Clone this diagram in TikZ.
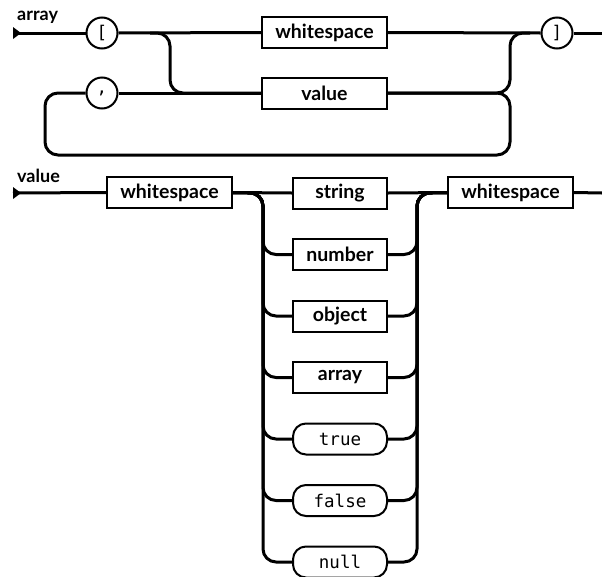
\documentclass[tikz,border=0pt]{standalone}
\usepackage{fontspec}
\setmainfont{Lato}
\newfontfamily\monofnt{DejaVu Sans Mono}
\begin{document}
\begin{tikzpicture}[x=1pt,y=-1pt,
  rail/.style={line width=3pt, rounded corners=13pt},
  nonterm/.style={draw, line width=2pt, minimum height=31pt, inner sep=0pt,
    fill=white, font=\fontsize{19.5}{20}\selectfont\bfseries},
  wide/.style={nonterm, minimum width=125pt},
  narrow/.style={nonterm, minimum width=94pt},
  literal/.style={draw, line width=2pt, minimum width=94pt, minimum height=31pt,
    inner sep=0pt, rounded corners=13pt, fill=white,
    font=\fontsize{17.5}{18}\monofnt},
  punct/.style={draw, circle, line width=2pt, minimum size=31pt, inner sep=0pt,
    fill=white, font=\fontsize{17.5}{18}\monofnt},
  title/.style={anchor=base west, inner sep=0pt, font=\fontsize{18}{18}\selectfont\bfseries},
  startmark/.style={fill=black}
]
\useasboundingbox (0,0) rectangle (602,576);

% ---------------- array ----------------
\node[title] (arrTitle) at (17,20) {array};
\coordinate (aS) at (13,33);
\coordinate (aE) at (602,33);
\fill[startmark] (13,27) -- (21,33) -- (13,39) -- cycle;

\node[punct] (lb) at (102,33) {[};
\node[punct] (comma) at (102,93) {,};
\node[wide] (ws1) at (324.5,32.5) {whitespace};
\node[wide] (val) at (324.5,93) {value};
\node[punct] (rb) at (557,33) {]};

\draw[rail] (aS) -- (lb.west);
\draw[rail] (lb.east) -- (ws1.west);
\draw[rail] (ws1.east) -- (rb.west);
\draw[rail] (rb.east) -- (aE);
\draw[rail] (150,33) -- (170,33) -- (170,93) -- (val.west);
\draw[rail] (comma.east) -- (val.west);
\draw[rail] (val.east) -- (510,93) -- (510,33) -- (530,33);
\draw[rail] (val.east) -- (510,93) -- (510,155) -- (45,155) -- (45,93) -- (comma.west);

% ---------------- value ----------------
\node[title] (valTitle) at (17,182) {value};
\coordinate (vS) at (13,193);
\coordinate (vE) at (602,193);
\fill[startmark] (13,187) -- (21,193) -- (13,199) -- cycle;

\node[wide] (wsA) at (169.5,192.5) {whitespace};
\node[wide] (wsB) at (510.5,192.5) {whitespace};

\node[narrow]  (oStr)   at (340,193)   {string};
\node[narrow]  (oNum)   at (340,254.5) {number};
\node[narrow]  (oObj)   at (340,316)   {object};
\node[narrow]  (oArr)   at (340,377.5) {array};
\node[literal] (oTrue)  at (340,439)   {true};
\node[literal] (oFalse) at (340,500.5) {false};
\node[literal] (oNull)  at (340,562)   {null};

\draw[rail] (vS) -- (wsA.west);
\draw[rail] (wsB.east) -- (vE);
\draw[rail] (wsA.east) -- (oStr.west);
\draw[rail] (oStr.east) -- (wsB.west);
\foreach \o in {oNum,oObj,oArr,oTrue,oFalse,oNull}{
  \draw[rail] (wsA.east) -- (263,193) -- (263,0 |- \o.west) -- (\o.west);
  \draw[rail] (\o.east) -- (417,0 |- \o.east) -- (417,193) -- (wsB.west);
}
\end{tikzpicture}
\end{document}
